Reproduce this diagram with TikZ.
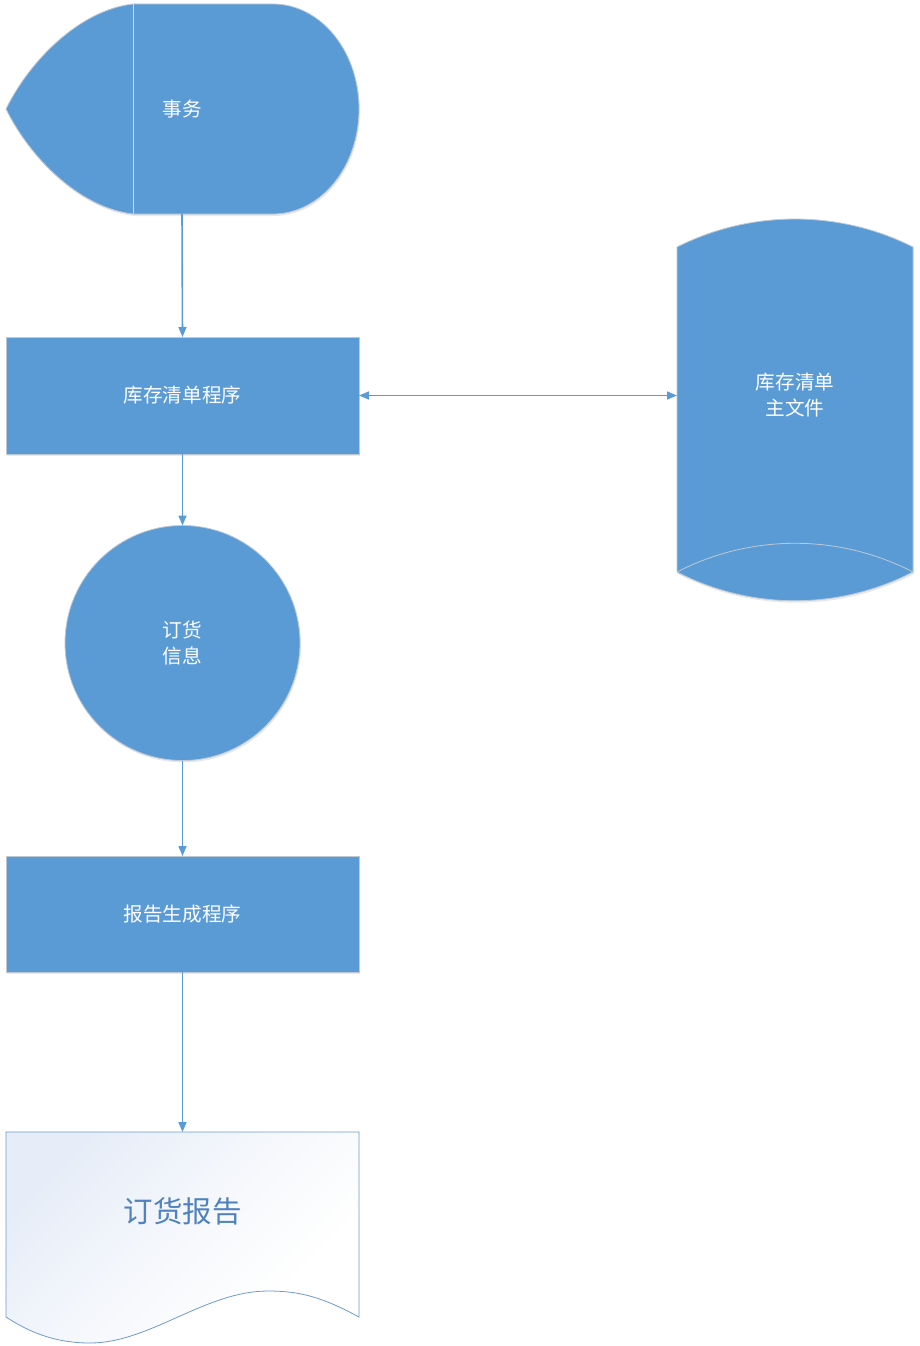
\documentclass[tikz,border=0pt]{standalone}
\usepackage{fontspec}
\newfontfamily\cjk{Noto Sans CJK SC}
\usetikzlibrary{arrows.meta,shadows}
\definecolor{boxblue}{HTML}{5B9BD5}
\definecolor{edgegray}{HTML}{BFC9D4}
\definecolor{docblue}{HTML}{4F82BE}
\definecolor{docedge}{HTML}{6D9BCF}
\definecolor{docfill}{HTML}{E6EDF8}
\definecolor{docmid}{HTML}{F6F8FC}
\pgfdeclareverticalshading{docshade}{100bp}{color(0bp)=(white); color(30bp)=(white); color(50bp)=(docmid); color(75bp)=(docfill); color(100bp)=(docfill)}
\tikzset{
  shapefill/.style={fill=boxblue, draw=edgegray, line width=0.8pt,
    drop shadow={opacity=0.18, shadow xshift=1pt, shadow yshift=-2pt}},
  procbox/.style={shapefill, rectangle, minimum width=353pt, minimum height=117pt,
    inner sep=0pt, outer sep=0pt},
  lbl/.style={text=white, font=\cjk\fontsize{19.6}{26.5}\selectfont, align=center},
  conn/.style={draw=boxblue, line width=1.6pt, -{Triangle[length=10pt,width=8pt]}},
  dconn/.style={draw=boxblue, line width=1.6pt, {Triangle[length=10pt,width=8pt]}-{Triangle[length=10pt,width=8pt]}}
}
\begin{document}
\begin{tikzpicture}[x=1pt,y=-1pt]
\useasboundingbox (0,0) rectangle (920,1346);
% Transaction (event) shape
\path[shapefill] (133,4) -- (273,4)
  .. controls (320.5,4) and (359,51) .. (359,109)
  .. controls (359,167) and (320.5,214) .. (273,214) -- (133,214)
  .. controls (80,208) and (30,158) .. (6,109)
  .. controls (30,60) and (80,10) .. (133,4) -- cycle;
\draw[draw=edgegray!70!white, line width=0.9pt] (133,4) -- (133,214);
\node[lbl] (trans) at (182,109) {事务};
\coordinate (trans-s) at (182,214);
% Inventory program
\node[procbox, lbl] (inv) at (182.5,395.5) {库存清单程序};
% Storage
\path[shapefill] (677,247) .. controls (751,209.7) and (839,209.7) .. (913,247) -- (913,572)
  .. controls (839,610.3) and (751,610.3) .. (677,572) -- cycle;
\draw[draw=edgegray, line width=0.8pt] (677,572) .. controls (751,533.7) and (839,533.7) .. (913,572);
\node[lbl] (master) at (795,395) {库存清单\\主文件};
\coordinate (master-w) at (677,395.5);
% Order info circle
\node[shapefill, circle, minimum size=235pt, inner sep=0pt, outer sep=0pt, lbl] (info) at (182.5,643) {订货\\信息};
% Report program
\node[procbox, lbl, minimum height=116pt] (rep) at (182.5,914) {报告生成程序};
% Document
\path[shading=docshade, shading angle=45, draw=docedge, line width=0.8pt]
  (6,1132) -- (359,1132) -- (359,1317)
  .. controls (322,1297) and (300,1291) .. (268,1291)
  .. controls (205,1291) and (150,1343) .. (90,1343)
  .. controls (52,1343) and (26,1330) .. (6,1317) -- cycle;
\node[text=docblue, font=\cjk\fontsize{29.5}{34}\selectfont] (doc) at (182.5,1211) {订货报告};
\coordinate (doc-n) at (182.5,1132);
% Connectors
\draw[conn] (trans-s) -- (inv.north);
\draw[dconn] (inv.east) -- (master-w);
\draw[conn] (inv.south) -- (info.north);
\draw[conn] (info.south) -- (rep.north);
\draw[conn] (rep.south) -- (doc-n);
\end{tikzpicture}
\end{document}
